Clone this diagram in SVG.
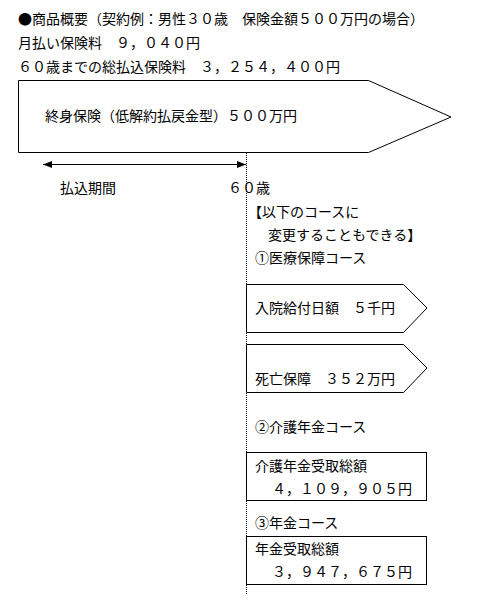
<svg xmlns="http://www.w3.org/2000/svg" width="477" height="610" viewBox="0 0 477 610">
<style>
text{font-family:"Noto Sans CJK JP","Noto Sans CJK SC",sans-serif;font-size:14px;fill:#000}
.box{fill:#fff;stroke:#000;stroke-width:1}
.ln{stroke:#000;stroke-width:1;fill:none}
.dot{stroke:#000;stroke-width:1;stroke-dasharray:1 1;fill:none}
</style>
<defs>
<marker id="ah" markerWidth="9" markerHeight="8" refX="9" refY="4" orient="auto-start-reverse" markerUnits="userSpaceOnUse">
<path d="M0,0.5 L9,4 L0,7.5 Z" fill="#000"/>
</marker>
</defs>
<rect width="477" height="610" fill="#fff"/>
<g id="header">
<text x="18" y="24">●商品概要（契約例：男性３０歳　保険金額５００万円の場合）</text>
<text x="18" y="48">月払い保険料　９，０４０円</text>
<text x="18" y="72">６０歳までの総払込保険料　３，２５４，４００円</text>
</g>
<g id="connectors">
<line class="dot" x1="246.5" y1="153" x2="246.5" y2="594"/>
<line class="ln" x1="43" y1="164.5" x2="246" y2="164.5" marker-start="url(#ah)" marker-end="url(#ah)"/>
</g>
<g id="main">
<path class="box" d="M18.5,80.5 H368.5 L451,117 L368.5,152.5 H18.5 Z"/>
<text x="45" y="121">終身保険（低解約払戻金型）５００万円</text>
</g>
<g id="labels">
<text x="60" y="193">払込期間</text>
<text x="228" y="193">６０歳</text>
<text x="248" y="217">【以下のコースに</text>
<text x="268" y="240">変更することもできる】</text>
<text x="255" y="263">①医療保障コース</text>
<text x="255" y="432">②介護年金コース</text>
<text x="255" y="528">③年金コース</text>
</g>
<g id="hospital">
<path class="box" d="M246.5,284.5 H403.5 L427,308 L403.5,332.5 H246.5 Z"/>
<text x="255" y="313">入院給付日額　５千円</text>
</g>
<g id="death">
<path class="box" d="M246.5,344.5 H403.5 L427,368 L403.5,392.5 H246.5 Z"/>
<text x="255" y="384">死亡保障　３５２万円</text>
</g>
<g id="care">
<rect class="box" x="246.5" y="452.5" width="180" height="48"/>
<text x="255" y="471">介護年金受取総額</text>
<text x="272" y="494">４，１０９，９０５円</text>
</g>
<g id="pension">
<rect class="box" x="246.5" y="536.5" width="180" height="48"/>
<text x="255" y="554">年金受取総額</text>
<text x="272" y="577">３，９４７，６７５円</text>
</g>
</svg>
